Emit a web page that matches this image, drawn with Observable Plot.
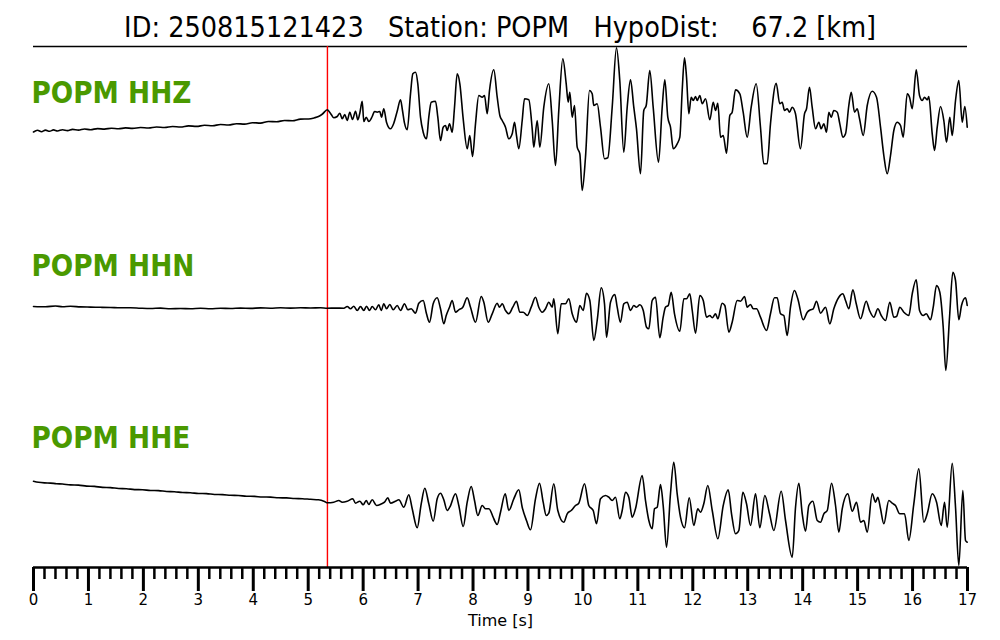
<!DOCTYPE html>
<html>
<head>
<meta charset="utf-8">
<script src="https://cdn.jsdelivr.net/npm/d3@7"></script>
<script src="https://cdn.jsdelivr.net/npm/@observablehq/plot@0.6"></script>
<style>
  body { margin: 0; background: #fff; font-family: "DejaVu Sans", sans-serif; }
  #title { position: relative; height: 45px; width: 1000px; overflow: visible; }
  #title .outer { position: absolute; left: 0; top: 13px; width: 1000px; text-align: center;
    font-size: 29px; line-height: 29px; white-space: pre; color: #000; transform-origin: 501px 50%; }
</style>
</head>
<body>
<div id="title"><div class="outer"><span class="inner">ID: 250815121423   Station: POPM   HypoDist:    67.2 [km]</span></div></div>
<div id="chart"></div>
<script>
// ---- data (time [s], relative amplitude) ----
const pickTime = 5.35;
const channelNames = ["POPM HHZ", "POPM HHN", "POPM HHE"];
const majorTicks = [0,1,2,3,4,5,6,7,8,9,10,11,12,13,14,15,16,17];
const minorTicks = d3.range(0, 85).map(i => i / 5).filter(v => v % 1 !== 0);
const axisLabel = "Time [s]";

const hhz = [
[0.000,-11.5],[0.073,-9.8],[0.146,-11.2],[0.218,-9.6],[0.291,-10.8],[0.364,-9.4],[0.437,-10.5],[0.528,-9.2],
[0.619,-10.1],[0.710,-8.9],[0.819,-9.6],[0.928,-8.5],[1.037,-9.2],[1.165,-8.1],[1.292,-8.6],[1.420,-7.7],
[1.547,-8.3],[1.675,-7.4],[1.802,-7.9],[1.948,-7.0],[2.093,-7.5],[2.239,-6.5],[2.384,-7.0],[2.530,-6.0],
[2.676,-6.5],[2.821,-5.4],[2.967,-5.9],[3.112,-4.8],[3.258,-5.2],[3.404,-4.0],[3.549,-4.5],[3.695,-3.2],
[3.841,-3.6],[3.986,-2.2],[4.132,-2.6],[4.277,-1.0],[4.423,-1.3],[4.569,0.0],[4.714,-0.2],[4.860,1.4],
[5.005,1.5],[5.115,2.7],[5.187,4.0],[5.260,6.5],[5.346,10.7],[5.419,6.0],[5.466,2.7],[5.528,4.0],
[5.575,7.3],[5.619,1.7],[5.666,6.0],[5.710,0.0],[5.757,8.3],[5.806,1.0],[5.861,9.3],[5.903,0.7],
[5.939,7.3],[5.983,19.3],[6.012,-1.0],[6.056,3.3],[6.103,-1.0],[6.165,4.0],[6.207,9.0],[6.256,8.3],
[6.303,9.0],[6.334,3.3],[6.376,11.7],[6.425,-1.7],[6.498,-8.3],[6.558,-2.7],[6.620,9.3],[6.680,20.7],
[6.716,10.0],[6.753,-2.7],[6.802,-9.3],[6.862,26.7],[6.904,46.7],[6.953,48.3],[6.995,36.7],[7.044,3.3],
[7.093,-11.7],[7.153,-18.3],[7.195,3.3],[7.239,18.3],[7.317,19.3],[7.359,3.3],[7.408,-20.0],[7.457,-6.7],
[7.499,-5.0],[7.530,-10.0],[7.572,-3.3],[7.621,-11.7],[7.663,13.3],[7.712,46.7],[7.760,36.7],[7.821,1.7],
[7.894,-28.3],[7.941,-15.0],[7.991,-36.0],[8.045,-3.3],[8.105,25.0],[8.167,23.3],[8.209,25.0],[8.258,6.7],
[8.300,30.0],[8.378,50.7],[8.440,23.3],[8.488,5.0],[8.531,0.0],[8.591,-6.7],[8.651,-18.3],[8.713,-13.3],
[8.755,-1.7],[8.791,-15.0],[8.833,-28.3],[8.895,0.0],[8.937,21.7],[9.015,20.7],[9.077,-8.3],[9.106,-26.7],
[9.168,0.0],[9.216,-26.7],[9.288,13.3],[9.379,36.7],[9.441,0.0],[9.501,-45.0],[9.561,10.0],[9.634,61.7],
[9.696,36.7],[9.732,18.3],[9.761,28.3],[9.805,3.3],[9.847,15.0],[9.896,-26.7],[9.944,-33.3],[9.987,-70.0],
[10.047,-36.7],[10.120,30.0],[10.169,26.7],[10.198,15.0],[10.260,16.7],[10.320,-6.7],[10.393,-38.3],[10.453,-37.3],
[10.533,13.3],[10.611,72.7],[10.671,40.0],[10.744,-31.7],[10.806,13.3],[10.866,40.7],[10.926,13.3],[10.975,-8.3],
[11.048,-53.3],[11.108,10.0],[11.152,15.0],[11.217,50.0],[11.279,13.3],[11.376,-41.7],[11.443,13.3],[11.491,40.7],
[11.545,3.3],[11.594,-6.7],[11.644,-28.3],[11.716,-23.3],[11.764,-16.7],[11.807,30.0],[11.849,62.7],[11.886,43.3],
[11.928,6.7],[11.971,23.3],[12.008,20.0],[12.050,24.0],[12.081,20.0],[12.128,25.0],[12.172,16.7],[12.232,21.7],
[12.310,0.7],[12.372,18.3],[12.414,10.0],[12.455,17.3],[12.505,-16.7],[12.554,-15.0],[12.614,-32.7],[12.674,5.0],
[12.717,8.3],[12.777,30.7],[12.856,26.7],[12.917,8.3],[12.990,-16.7],[13.063,13.3],[13.154,36.7],[13.232,-6.7],
[13.292,-43.3],[13.354,-43.3],[13.414,-3.3],[13.518,37.3],[13.583,16.7],[13.627,18.3],[13.669,10.0],[13.718,11.7],
[13.760,8.3],[13.809,13.3],[13.869,6.7],[13.960,-28.3],[14.033,6.7],[14.070,11.7],[14.124,33.3],[14.173,13.3],
[14.234,-8.3],[14.294,-1.7],[14.337,-8.3],[14.385,-3.3],[14.434,-11.7],[14.476,8.3],[14.519,3.3],[14.567,10.0],
[14.629,8.3],[14.676,-3.3],[14.731,-16.7],[14.780,-13.3],[14.840,15.0],[14.884,28.3],[14.944,8.3],[14.993,11.7],
[15.035,1.7],[15.102,-15.0],[15.175,15.0],[15.266,29.3],[15.344,23.3],[15.417,-6.7],[15.477,-35.0],[15.539,-53.3],
[15.599,-35.0],[15.659,-10.0],[15.721,-1.7],[15.781,-5.0],[15.830,-16.7],[15.903,26.7],[15.945,23.3],[15.994,11.7],
[16.067,50.7],[16.127,25.0],[16.176,20.0],[16.218,23.3],[16.267,20.7],[16.296,24.0],[16.358,-13.3],[16.400,-30.0],
[16.449,-6.7],[16.509,14.0],[16.569,0.0],[16.618,-21.7],[16.678,3.3],[16.722,-15.0],[16.782,20.0],[16.842,40.0],
[16.904,-1.7],[16.951,14.0],[16.995,-6.7]
];

const hhn = [
[0.000,0.0],[0.218,-0.3],[0.400,0.5],[0.528,-0.2],[0.673,0.2],[0.855,-0.4],[1.037,-0.6],[1.220,-0.8],
[1.402,-1.0],[1.584,-1.3],[1.766,-1.2],[1.948,-1.7],[2.130,-2.0],[2.312,-1.6],[2.494,-2.3],[2.676,-2.0],
[2.858,-2.3],[3.040,-1.8],[3.222,-2.2],[3.404,-1.8],[3.586,-2.0],[3.768,-1.6],[3.950,-1.9],[4.132,-1.4],
[4.314,-1.7],[4.496,-1.3],[4.678,-1.6],[4.860,-1.3],[5.042,-1.5],[5.224,-1.3],[5.346,-1.7],[5.497,-1.6],
[5.648,-1.7],[5.710,0.0],[5.770,-2.3],[5.830,0.3],[5.892,-4.0],[5.952,0.0],[6.012,-4.0],[6.061,0.3],
[6.116,-4.0],[6.165,0.0],[6.225,-3.3],[6.285,1.7],[6.329,-4.0],[6.376,2.7],[6.425,-2.3],[6.485,2.0],
[6.547,-3.3],[6.620,1.0],[6.680,-4.0],[6.753,2.7],[6.813,-3.3],[6.875,-2.3],[6.953,-6.7],[7.013,3.3],
[7.093,6.0],[7.153,-7.3],[7.208,-15.7],[7.275,2.7],[7.348,8.7],[7.408,-2.3],[7.468,-17.3],[7.512,-9.0],
[7.572,-0.7],[7.621,6.0],[7.681,-5.7],[7.741,-3.3],[7.814,-0.7],[7.894,8.7],[7.954,-0.7],[8.045,-15.7],
[8.149,10.0],[8.196,4.3],[8.276,-15.7],[8.349,-7.3],[8.440,3.3],[8.482,-0.7],[8.531,2.7],[8.591,-4.0],
[8.651,-7.3],[8.724,-0.7],[8.791,5.3],[8.851,-5.7],[8.913,-5.7],[8.986,-9.0],[9.059,-0.7],[9.137,9.3],
[9.197,-0.7],[9.259,-5.7],[9.319,-2.3],[9.379,4.3],[9.441,-0.7],[9.470,7.7],[9.543,-27.3],[9.605,2.7],
[9.683,2.7],[9.743,7.7],[9.805,-7.3],[9.883,-15.7],[9.944,1.0],[10.005,-4.0],[10.065,13.3],[10.126,6.0],
[10.198,-34.0],[10.260,-14.0],[10.333,18.7],[10.393,2.7],[10.430,-30.7],[10.502,4.3],[10.581,12.0],[10.624,-0.7],
[10.684,-15.7],[10.744,2.7],[10.806,4.3],[10.866,-4.0],[10.926,1.0],[10.975,-0.7],[11.036,1.7],[11.098,-4.0],
[11.158,-20.7],[11.200,-22.3],[11.261,6.0],[11.321,9.3],[11.400,-31.3],[11.461,-10.7],[11.503,-0.7],[11.553,1.0],
[11.607,14.3],[11.667,-7.3],[11.764,-24.7],[11.837,7.7],[11.886,7.7],[11.946,12.7],[11.990,-4.0],[12.050,-26.7],
[12.128,11.0],[12.190,6.0],[12.250,-10.7],[12.310,-9.0],[12.354,-11.3],[12.414,-7.3],[12.455,-12.3],[12.535,3.3],
[12.583,1.0],[12.656,-25.7],[12.717,-15.7],[12.808,6.0],[12.869,5.3],[12.942,10.0],[12.990,-0.7],[13.051,2.0],
[13.100,-2.3],[13.160,-2.3],[13.232,-10.7],[13.342,-24.0],[13.414,-7.3],[13.487,8.7],[13.536,8.7],[13.597,-7.3],
[13.657,-9.0],[13.718,-29.0],[13.778,-0.7],[13.851,16.0],[13.911,7.7],[14.010,-13.3],[14.083,-5.7],[14.143,-3.3],
[14.192,-2.3],[14.252,5.3],[14.325,-6.7],[14.416,-0.7],[14.494,-17.3],[14.567,-2.3],[14.658,9.3],[14.731,12.7],
[14.780,6.0],[14.840,-2.3],[14.913,16.7],[14.975,2.7],[15.053,-12.3],[15.157,5.3],[15.217,-4.0],[15.295,-10.7],
[15.368,-2.3],[15.430,-9.0],[15.508,-14.0],[15.586,4.3],[15.659,-10.7],[15.708,-10.0],[15.768,-0.7],[15.841,-5.7],
[15.932,-9.0],[15.994,12.7],[16.067,26.7],[16.127,-4.0],[16.194,-9.0],[16.249,-7.3],[16.327,-13.3],[16.376,-0.7],
[16.436,21.0],[16.496,14.3],[16.558,-20.7],[16.605,-64.0],[16.673,-10.7],[16.733,34.3],[16.782,26.0],[16.842,-13.3],
[16.891,1.0],[16.964,8.7],[16.995,1.0]
];

const hhe = [
[0.000,19.3],[0.091,18.2],[0.200,17.6],[0.309,17.4],[0.419,16.8],[0.528,16.5],[0.673,15.6],[0.819,15.4],
[0.965,14.4],[1.110,14.1],[1.256,13.1],[1.402,12.9],[1.547,12.0],[1.693,11.8],[1.839,10.9],[1.984,10.8],
[2.130,10.0],[2.275,9.9],[2.421,9.0],[2.566,8.8],[2.712,8.0],[2.858,7.8],[3.003,7.0],[3.149,6.9],
[3.294,6.0],[3.440,5.9],[3.586,5.2],[3.731,5.0],[3.877,4.3],[4.023,4.1],[4.168,3.5],[4.314,3.4],
[4.459,2.7],[4.605,2.6],[4.751,2.0],[4.896,1.8],[5.042,1.2],[5.187,0.7],[5.297,-1.0],[5.351,-2.3],
[5.466,-1.7],[5.557,0.0],[5.619,-1.7],[5.710,-0.7],[5.812,1.7],[5.861,-2.7],[5.939,-0.7],[6.001,-4.3],
[6.056,0.0],[6.103,-4.0],[6.165,0.7],[6.243,-5.0],[6.334,-3.3],[6.389,-1.7],[6.449,2.7],[6.498,-2.7],
[6.589,-0.7],[6.649,0.7],[6.740,-6.7],[6.831,5.7],[6.893,-8.3],[6.984,-27.3],[7.057,-3.3],[7.122,12.3],
[7.195,-3.3],[7.275,-20.7],[7.348,1.7],[7.408,7.3],[7.468,0.7],[7.530,-10.0],[7.577,-6.7],[7.681,6.7],
[7.741,-5.0],[7.821,-26.0],[7.894,-1.7],[7.967,14.0],[8.027,0.0],[8.087,-15.0],[8.167,-5.0],[8.227,-8.3],
[8.287,-8.3],[8.367,-16.7],[8.397,-20.7],[8.440,-24.0],[8.500,-11.7],[8.586,6.7],[8.651,-10.0],[8.742,1.7],
[8.833,10.7],[8.895,-6.7],[8.973,-20.0],[9.046,-29.3],[9.137,1.7],[9.210,17.3],[9.277,-1.7],[9.332,-15.0],
[9.379,-12.7],[9.470,16.7],[9.543,-10.0],[9.652,-21.7],[9.714,-13.3],[9.787,-10.0],[9.865,-5.0],[9.925,-2.7],
[10.029,16.7],[10.107,-5.0],[10.187,-10.0],[10.248,-23.3],[10.320,1.7],[10.411,5.0],[10.471,3.3],[10.533,0.0],
[10.593,3.3],[10.671,-18.3],[10.715,-10.0],[10.775,8.3],[10.835,3.3],[10.897,-16.7],[10.957,-8.3],[11.079,25.0],
[11.139,0.0],[11.200,-20.0],[11.261,-28.3],[11.303,-8.3],[11.352,-6.7],[11.412,16.0],[11.461,-5.0],[11.522,-46.7],
[11.594,6.7],[11.654,38.3],[11.716,6.7],[11.776,-16.7],[11.849,-27.3],[11.935,2.7],[12.019,-25.0],[12.091,-8.3],
[12.140,-11.7],[12.200,-3.3],[12.273,15.0],[12.354,-10.0],[12.456,-38.3],[12.554,-5.0],[12.645,10.7],[12.705,-13.3],
[12.778,-33.3],[12.838,-30.0],[12.911,8.3],[12.978,-3.3],[13.051,-25.0],[13.142,6.7],[13.220,-27.3],[13.311,5.0],
[13.397,-13.3],[13.475,-30.0],[13.609,9.3],[13.688,-20.0],[13.810,-56.7],[13.870,-6.7],[13.930,17.3],[13.992,-13.3],
[14.052,-30.7],[14.112,-5.0],[14.185,-0.7],[14.265,-20.0],[14.325,-21.7],[14.385,-13.3],[14.447,-10.0],[14.525,17.3],
[14.598,-5.0],[14.658,-31.7],[14.720,-8.3],[14.822,6.7],[14.902,-10.7],[14.980,-1.7],[15.053,-21.7],[15.113,-20.0],
[15.175,-31.7],[15.266,6.7],[15.326,-1.7],[15.368,3.3],[15.417,-8.3],[15.477,-23.3],[15.568,0.0],[15.629,-2.7],
[15.689,-5.0],[15.768,-13.3],[15.854,-13.3],[15.932,-40.0],[16.023,-3.3],[16.114,31.7],[16.205,-21.7],[16.267,-13.3],
[16.358,6.7],[16.437,-1.7],[16.522,-25.0],[16.582,-1.7],[16.631,-26.7],[16.722,37.3],[16.782,-6.7],[16.842,-65.0],
[16.915,10.0],[16.964,-40.0],[16.995,-41.7]
];

// ---- layout ----
const traces = [
  {name: channelNames[0], data: hhz, offset: 447, labelY: 465},
  {name: channelNames[1], data: hhn, offset: 261, labelY: 292},
  {name: channelNames[2], data: hhe, offset: 67,  labelY: 120}
];

const chart = Plot.plot({
  width: 1000,
  height: 595,
  marginLeft: 33, marginRight: 33, marginTop: 1, marginBottom: 73,
  x: {domain: [0, 17]},
  y: {domain: [0, 521], axis: null},
  style: {fontFamily: "DejaVu Sans, sans-serif", fontSize: "15px", color: "#000", background: "#fff", overflow: "visible"},
  marks: [
    Plot.ruleY([521], {stroke: "#000", strokeWidth: 1.5}),
    Plot.ruleX([pickTime], {stroke: "#ff0000", strokeWidth: 1.4}),
    ...traces.map(tr => Plot.line(tr.data, {
      x: d => d[0], y: d => tr.offset + d[1],
      stroke: "#000", strokeWidth: 1.6, curve: "monotone-x"
    })),
    Plot.text(traces, {
      x: 0, y: d => d.labelY, text: d => d.name,
      textAnchor: "start", lineAnchor: "bottom", dx: -2,
      fill: "#4a9900", fontWeight: "bold", fontSize: 30
    }),
    Plot.ruleY([0], {stroke: "#000", strokeWidth: 2.5}),
    Plot.axisX({ticks: minorTicks, tickSize: 12, strokeWidth: 2.5, tickFormat: () => "", label: null}),
    Plot.axisX({ticks: majorTicks, tickSize: 24, strokeWidth: 3, tickPadding: 3, tickFormat: d => String(d), fontSize: 15, label: null}),
    Plot.text([axisLabel], {frameAnchor: "bottom", dy: 53, text: d => d, fontSize: 16, lineAnchor: "middle"})
  ]
});
document.getElementById("chart").appendChild(chart);

// condense bold channel labels and fit title width
d3.select(chart).selectAll("text").each(function() {
  const t = this.textContent;
  if (t.startsWith("POPM")) {
    const bb = this.getBBox();
    const tr = this.getAttribute("transform") || "";
    this.setAttribute("transform", `${tr} translate(${bb.x},0) scale(0.88,1) translate(${-bb.x},0)`);
  }
});
const inner = document.querySelector("#title .inner");
const w = inner.getBoundingClientRect().width;
document.querySelector("#title .outer").style.transform = `scaleX(${752 / w})`;
</script>
</body>
</html>
